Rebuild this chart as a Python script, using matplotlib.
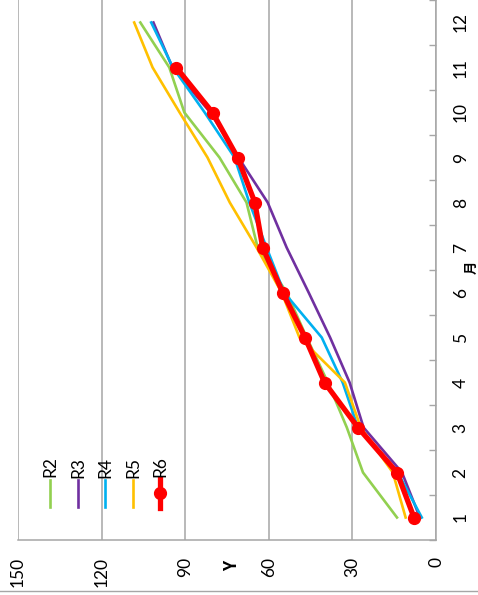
import matplotlib
matplotlib.use("Agg")
import matplotlib.pyplot as plt
from matplotlib.lines import Line2D

plt.rcParams['font.family'] = ['Lato', 'Noto Sans CJK SC', 'DejaVu Sans']

months = [1, 2, 3, 4, 5, 6, 7, 8, 9, 10, 11, 12]
month_labels = [str(m) for m in months]
value_ticks = [0, 30, 60, 90, 120, 150]

R2 = [14.0, 26.2, 32.0, 38.8, 46.4, 53.6, 64.0, 68.0, 77.7, 90.3, 95.7, 106.1]
R3 = [5.8, 12.2, 26.0, 31.0, 38.0, 45.7, 53.6, 60.4, 70.9, 81.0, 94.6, 101.4]
R4 = [5.1, 13.7, 28.0, 33.5, 41.0, 54.5, 60.8, 67.0, 72.3, 83.0, 94.4, 102.2]
R5 = [10.9, 15.5, 27.0, 32.7, 49.0, 55.4, 64.4, 74.0, 82.0, 92.0, 101.7, 108.3]
R6 = [7.9, 14.0, 28.0, 40.0, 47.0, 55.0, 62.2, 65.0, 71.2, 80.2, 93.2]

series = [
    ("R2", R2, "#92D050"),
    ("R3", R3, "#7030A0"),
    ("R4", R4, "#00B0F0"),
    ("R5", R5, "#FFC000"),
]

W, H = 478, 595
fig = plt.figure(figsize=(W / 100, H / 100), dpi=100)
ax = fig.add_axes([18 / W, 55 / H, (436 - 18) / W, 540 / H])

for name, vals, col in series:
    ax.plot(vals, months[:len(vals)], color=col, lw=1.9, solid_joinstyle='round', zorder=3)
ax.plot(R6, months[:len(R6)], color="#FF0000", lw=3.8, marker='o', markersize=8.5,
        solid_joinstyle='round', zorder=4)

ax.set_xlim(150, 0)
ax.set_ylim(0.5, 12.5)

ax.set_xticks(value_ticks)
ax.set_xticklabels([str(v) for v in value_ticks], rotation=90, fontsize=12.5)
ax.tick_params(axis='x', length=0, pad=12.5)
ax.xaxis.grid(True, color="#A6A6A6", lw=1.1)
ax.set_axisbelow(True)

ax.yaxis.tick_right()
ax.set_yticks([m + 0.5 for m in range(0, 13)])
ax.set_yticklabels([])
ax.set_yticks(months, minor=True)
ax.set_yticklabels(month_labels, minor=True, rotation=90, fontsize=12.5, va='center')
ax.tick_params(axis='y', which='major', direction='in', length=5, color="#A6A6A6", width=1)
ax.tick_params(axis='y', which='minor', length=0, pad=12)

for s in ['left', 'top']:
    ax.spines[s].set_visible(False)
for s in ['right', 'bottom']:
    ax.spines[s].set_color("#A6A6A6")
    ax.spines[s].set_linewidth(1.1)

fig.text(232 / W, 1 - 566 / H, "Y", rotation=90, fontsize=12.5, fontweight='bold',
         ha='center', va='center', family=['Noto Sans CJK SC', 'DejaVu Sans'])
fig.text(472 / W, 1 - 267 / H, "月", rotation=90, fontsize=9.5, fontweight='bold',
         ha='center', va='center', family=['Noto Sans CJK SC', 'DejaVu Sans'])

# legend (manual, rotated)
leg_items = [(n, c) for n, _, c in series] + [("R6", "#FF0000")]
xs = [50, 78, 105, 133, 160]
for (name, col), px in zip(leg_items, xs):
    x = px / W
    if name == "R6":
        fig.add_artist(Line2D([x, x], [1 - 479 / H, 1 - 508 / H], color=col, lw=3.8))
        fig.add_artist(Line2D([x], [1 - 493 / H], color=col, marker='o', markersize=8.5,
                              lw=0))
    else:
        fig.add_artist(Line2D([x, x], [1 - 480 / H, 1 - 507 / H], color=col, lw=1.9))
    fig.text(x, 1 - 467 / H, name, rotation=90, fontsize=12.5, ha='center', va='center')

fig.add_artist(Line2D([0, 1], [1 - 591 / H, 1 - 591 / H], color="#A6A6A6", lw=1))

fig.savefig("out.png", dpi=100)
